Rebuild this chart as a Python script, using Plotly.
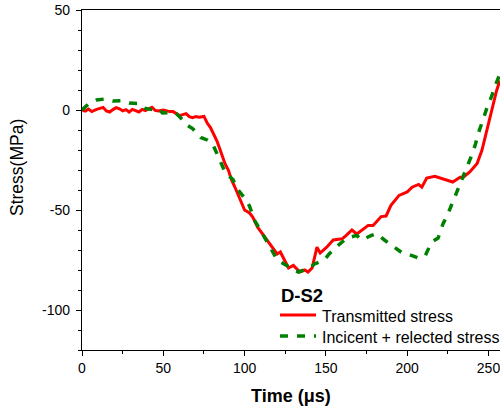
import plotly.graph_objects as go

# Transmitted stress (MPa) vs time (µs)
t_trans = [0, 2, 4, 6, 9, 11, 13, 15, 17, 19, 21, 23, 25, 27, 29, 31, 33, 35, 37, 39,
           41, 43, 45, 47, 50, 52, 54, 56, 58, 60, 62, 64, 66, 68, 70, 72, 75, 77, 79, 81,
           83, 85, 88, 90, 92, 94, 97, 100, 103, 105, 108, 111, 114, 117, 120, 122, 125,
           127, 130, 134, 137, 139, 141.5, 144.5, 146.5, 150.5, 154.5, 160, 162.5, 166,
           169, 172, 176, 179, 184, 187, 190, 195, 200, 203, 207, 209, 212, 217, 222,
           228, 232.5, 234.5, 238.5, 243, 246, 249, 252, 255, 257]
s_trans = [0, -0.6, 0.5, -0.8, 0.3, 0.8, 1.3, -0.5, -1.0, 0.2, 1.2, 0.6, -0.4, 0.2, -1.0,
           0.3, -0.2, -1.0, 0.3, -0.3, 0.6, 1.4, -0.2, -0.5, 0, -0.4, -0.8, -0.8, -1.8,
           -2.8, -2.3, -1.8, -3.3, -3.8, -3.3, -3.6, -3.2, -6.5, -8.8, -12, -15.5, -20,
           -27, -30, -35, -38.5, -44, -50, -51.5, -53.5, -58.6, -62, -65, -68.6, -72,
           -71, -76, -79, -77.7, -81, -80, -81, -79, -68.6, -71.5, -68.6, -65, -64.4,
           -62.7, -60, -62, -60, -57.7, -57.7, -53.3, -53, -47.7, -42.7, -41, -38.6,
           -37.2, -38.6, -34, -33.2, -34.3, -36, -33.6, -33.6, -31, -26.8, -20, -10,
           0, 9.75, 14.75]

# Incident + reflected stress (MPa) vs time (µs)
t_inc = [0, 4, 9, 14, 19, 25, 29, 36, 39, 43, 47, 49.5, 55, 58, 62, 65, 68, 71, 73, 77,
         80, 82, 86, 88, 93, 95, 100, 103, 106, 109, 113, 116, 120, 124, 130, 133, 140,
         143, 149, 152, 157, 160, 163, 169, 172, 178, 181, 186, 189, 193, 197, 200, 204,
         207, 211, 215, 219, 222, 225, 229, 231, 234, 237, 240, 242, 244, 247, 249, 252,
         254, 257]
s_inc = [0, 3, 5, 5.5, 4.5, 4.6, 3.5, 3.1, 0.8, 0.2, 0.5, -1.5, -1.2, -1.8, -5, -7.8,
         -9.3, -11.7, -13.7, -15, -16.5, -20, -26.7, -31, -35, -39, -44, -48, -55, -59,
         -65, -69, -75, -77, -80, -81, -79, -77, -75, -72, -68, -66, -64, -62.7, -65,
         -62.7, -61.8, -65, -66.9, -69.5, -71.5, -72, -73, -74, -73, -66, -64, -57, -52,
         -44, -40, -34, -29, -22, -17, -11, -4, 1, 7, 12, 18]

# Tick labels
x_ticks = [0, 50, 100, 150, 200, 250]
x_ticktext = ["0", "50", "100", "150", "200", "250"]
y_ticks = [-100, -50, 0, 50]
y_ticktext = ["-100", "-50", "0", "50"]

series_names = ["Transmitted stress", "Incicent + relected stress"]
series_colors = ["#ff0000", "#008000"]
series_dash = ["solid", "8px,9px"]
series_width = [3, 3.5]
legend_title = "D-S2"

FONT = "Liberation Sans, Arial, sans-serif"

fig = go.Figure()
for (tx, sy), name, col, dash, w in zip(
        [(t_trans, s_trans), (t_inc, s_inc)], series_names, series_colors,
        series_dash, series_width):
    fig.add_trace(go.Scatter(
        x=tx, y=sy, mode="lines", name=name, showlegend=False,
        line=dict(color=col, width=w, dash=dash),
    ))

axis_common = dict(
    showline=True, linecolor="black", linewidth=1.2,
    ticks="outside", ticklen=5, tickwidth=1, tickcolor="black",
    showgrid=False, zeroline=False, ticklabeloverflow="allow",
    tickfont=dict(family=FONT, size=14, color="black"),
)

fig.update_xaxes(
    range=[0, 257.07], tickvals=x_ticks, ticktext=x_ticktext, mirror=True,
    minor=dict(dtick=25, tick0=0, ticks="outside", ticklen=3, tickcolor="black",
               showgrid=False),
    **axis_common,
)
fig.update_yaxes(
    range=[-120, 50], tickvals=y_ticks, ticktext=y_ticktext, ticklabelstandoff=3,
    minor=dict(dtick=10, tick0=0, ticks="outside", ticklen=3, tickcolor="black",
               showgrid=False),
    **axis_common,
)

# Axis titles
fig.add_annotation(
    text="<b>Time (μs)</b>", xref="paper", yref="paper", x=0.5, y=0,
    yshift=-46, showarrow=False, yanchor="middle",
    font=dict(family=FONT, size=18, color="black"),
)
fig.add_annotation(
    text="Stress(MPa)", xref="paper", yref="paper", x=0, y=0.5,
    xshift=-65, yshift=12, showarrow=False, textangle=-90, xanchor="center",
    font=dict(family=FONT, size=17.5, color="black"),
)

# Legend block: title, line samples and labels (paper coordinates)
plot_l, plot_r, plot_t, plot_b = 82, 500, 10, 350
def px_x(p):
    return (p - plot_l) / (plot_r - plot_l)
def px_y(p):
    return (plot_b - p) / (plot_b - plot_t)

fig.add_annotation(
    text=f"<b>{legend_title}</b>", xref="paper", yref="paper",
    x=px_x(279), y=px_y(295), xanchor="left", yanchor="middle", showarrow=False,
    font=dict(family=FONT, size=18.5, color="black"),
)
for row_y, name, col, dash, w in zip([315, 336], series_names, series_colors,
                                      series_dash, series_width):
    fig.add_shape(
        type="line", xref="paper", yref="paper",
        x0=px_x(280), x1=px_x(316), y0=px_y(row_y), y1=px_y(row_y),
        line=dict(color=col, width=w, dash=dash),
    )
    fig.add_annotation(
        text=name, xref="paper", yref="paper",
        x=px_x(320), y=px_y(row_y + 1), xanchor="left", yanchor="middle",
        showarrow=False, font=dict(family=FONT, size=16, color="black"),
    )

fig.update_layout(
    width=500, height=412,
    margin=dict(l=82, r=0, t=10, b=62),
    paper_bgcolor="white", plot_bgcolor="white",
    showlegend=False,
)

fig.write_html("out.html")
